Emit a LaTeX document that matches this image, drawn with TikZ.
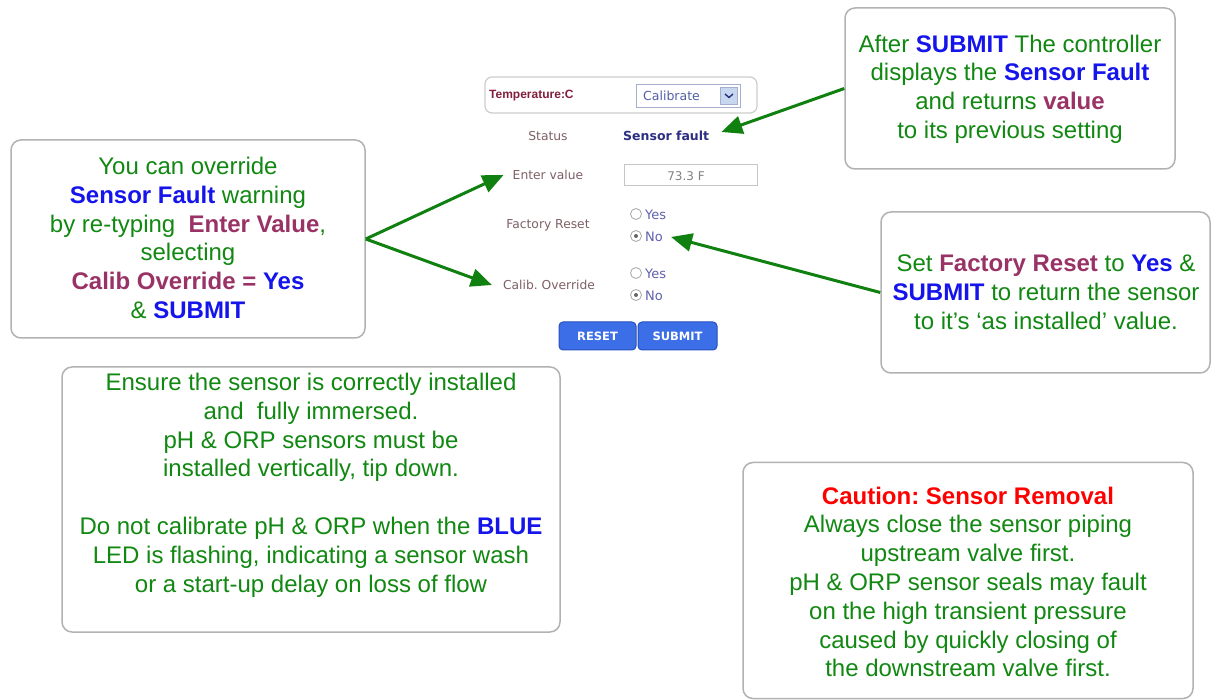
\documentclass[tikz,border=0pt]{standalone}
\usepackage{fontspec}
\setmainfont{Liberation Sans}
\newfontfamily\formfont{DejaVu Sans}
\usetikzlibrary{arrows.meta}
\frenchspacing

\definecolor{tgreen}{RGB}{17,136,17}
\definecolor{tblue}{RGB}{20,20,235}
\definecolor{tplum}{RGB}{153,51,102}
\definecolor{tred}{RGB}{255,0,0}
\definecolor{boxline}{RGB}{178,178,178}
\definecolor{arrowgreen}{RGB}{16,128,16}
\definecolor{tempred}{RGB}{130,30,60}
\definecolor{faultblue}{RGB}{45,45,130}
\definecolor{lblgray}{RGB}{125,95,100}
\definecolor{radioblue}{RGB}{95,95,175}
\definecolor{ddline}{RGB}{165,175,205}
\definecolor{ddtext}{RGB}{80,95,165}
\definecolor{ddbtn}{RGB}{200,215,240}
\definecolor{btnfill}{RGB}{60,110,232}
\definecolor{btnline}{RGB}{40,80,190}

\tikzset{
  note/.style={draw=boxline, line width=1.5pt, rounded corners=10pt, fill=white, inner sep=0pt},
  notetext/.style={text=tgreen, align=center, inner sep=0pt,
    font=\fontsize{24}{28.8}\selectfont},
  pointer/.style={draw=arrowgreen, line width=3pt,
    -{Triangle[length=21pt,width=18pt]}},
  formlbl/.style={text=lblgray, font=\formfont\fontsize{12.3}{14}\selectfont, inner sep=2pt},
  radiotxt/.style={text=radioblue, font=\formfont\fontsize{13}{15}\selectfont, anchor=west, inner sep=1pt},
  radio/.style={draw=gray!70, line width=0.8pt, fill=white, circle, minimum size=11pt, inner sep=0pt},
  btn/.style={fill=btnfill, draw=btnline, line width=1pt, rounded corners=4pt,
    minimum height=28pt, text=white, font=\formfont\fontsize{11.5}{13}\selectfont\bfseries, inner sep=0pt}
}

\begin{document}
\begin{tikzpicture}[x=1pt,y=-1pt]
\useasboundingbox (0,0) rectangle (1211,700);

% ---------- web form ----------
\node[draw=gray!40, line width=1.2pt, rounded corners=7pt, minimum width=272pt, minimum height=36pt, inner sep=0pt] (tempbar) at (621,95) {};
\node[anchor=west, text=tempred, font=\fontsize{12}{14}\selectfont\bfseries, inner sep=0pt] (templbl) at (489,96) {Temperature:C};
\node[draw=ddline, line width=0.8pt, minimum width=104pt, minimum height=23pt, inner sep=0pt] (dropdown) at (688,95.5) {};
\node[anchor=west, text=ddtext, font=\formfont\fontsize{12.5}{14}\selectfont, inner sep=0pt] (ddlabel) at (643,96) {Calibrate};
\node[fill=ddbtn, draw=ddline, minimum width=17pt, minimum height=17pt, inner sep=0pt] (ddbutton) at (729,95.5) {};
\draw[faultblue, line width=1.4pt] ([shift={(-4pt,1.5pt)}]ddbutton.center) -- ([shift={(0pt,-2pt)}]ddbutton.center) -- ([shift={(4pt,1.5pt)}]ddbutton.center);

\node[formlbl] (status) at (548,136) {Status};
\node[anchor=west, text=faultblue, font=\formfont\fontsize{12.5}{14}\selectfont\bfseries, inner sep=2pt] (fault) at (621,136) {Sensor fault};

\node[formlbl] (enterlbl) at (548,175) {Enter value};
\node[draw=gray!45, line width=1pt, minimum width=133pt, minimum height=21pt, inner sep=0pt] (valuebox) at (690.5,175.5) {};
\node[text=gray, font=\formfont\fontsize{12}{14}\selectfont, inner sep=0pt] (value) at (686,176) {73.3 F};

\node[formlbl] (frlbl) at (548,225) {Factory Reset};
\node[radio] (fr-yes-dot) at (636,214) {};
\node[radiotxt] (fr-yes) at (644,215) {Yes};
\node[radio] (fr-no-dot) at (636,236) {};
\fill[gray!80!black] (fr-no-dot.center) circle (2pt);
\node[radiotxt] (fr-no) at (644,237) {No};

\node[formlbl] (callbl) at (549,285) {Calib. Override};
\node[radio] (co-yes-dot) at (636,273) {};
\node[radiotxt] (co-yes) at (644,274) {Yes};
\node[radio] (co-no-dot) at (636,295) {};
\fill[gray!80!black] (co-no-dot.center) circle (2pt);
\node[radiotxt] (co-no) at (644,296) {No};

\node[btn, minimum width=77pt] (reset) at (597.5,336) {RESET};
\node[btn, minimum width=79pt] (submit) at (677.5,336) {SUBMIT};

% ---------- notes ----------
\node[note, minimum width=354pt, minimum height=198pt] (override) at (188,239) {};
\node[notetext] (overridetxt) at (188,238) {You can override\\
  \textbf{\color{tblue}Sensor Fault} warning\\
  by re-typing \ \textbf{\color{tplum}Enter Value},\\
  selecting\\
  \textbf{\color{tplum}Calib Override =} \textbf{\color{tblue}Yes}\\
  \& \textbf{\color{tblue}SUBMIT}};

\node[note, minimum width=330pt, minimum height=161pt] (faultnote) at (1010,88.5) {};
\node[notetext] (faulttxt) at (1010,89) {After \textbf{\color{tblue}SUBMIT} The controller\\
  displays the \textbf{\color{tblue}Sensor Fault}\\
  and returns \textbf{\color{tplum}value}\\
  to its previous setting};

\node[note, minimum width=329pt, minimum height=161pt] (resetnote) at (1045.5,292.5) {};
\node[notetext] (resettxt) at (1046,292) {Set \textbf{\color{tplum}Factory Reset} to \textbf{\color{tblue}Yes} \&\\
  \textbf{\color{tblue}SUBMIT} to return the sensor\\
  to it’s ‘as installed’ value.};

\node[note, minimum width=498pt, minimum height=265pt] (installnote) at (311,499.5) {};
\node[notetext] (installtxt) at (311,485) {Ensure the sensor is correctly installed\\
  and \ fully immersed.\\
  pH \& ORP sensors must be\\
  installed vertically, tip down.\\[28.8pt]
  Do not calibrate pH \& ORP when the \textbf{\color{tblue}BLUE}\\
  LED is flashing, indicating a sensor wash\\
  or a start-up delay on loss of flow};

\node[note, minimum width=450pt, minimum height=236pt] (cautionnote) at (968,580.5) {};
\node[notetext] (cautiontxt) at (968,582) {\textbf{\color{tred}Caution: Sensor Removal}\\
  Always close the sensor piping\\
  upstream valve first.\\
  pH \& ORP sensor seals may fault\\
  on the high transient pressure\\
  caused by quickly closing of\\
  the downstream valve first.};

% ---------- pointers ----------
\draw[pointer] (override.east) -- ([xshift=-7pt]enterlbl.west);
\draw[pointer] (override.east) -- ([xshift=-9pt]callbl.west);
\draw[pointer] (faultnote.west) -- ([xshift=10pt,yshift=4pt]fault.east);
\draw[pointer] (resetnote.west) -- ([xshift=7pt]fr-no.east);
\end{tikzpicture}
\end{document}
